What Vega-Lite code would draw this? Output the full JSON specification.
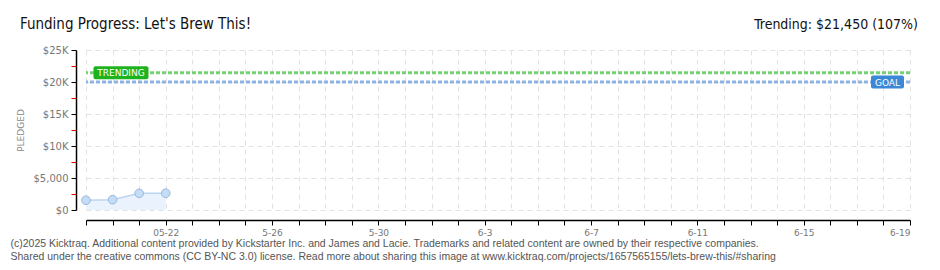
{
  "$schema": "https://vega.github.io/schema/vega-lite/v6.json",
  "width": 824,
  "height": 160,
  "autosize": "none",
  "padding": {"left": 86, "top": 50, "right": 30, "bottom": 60},
  "background": "white",
  "config": {"view": {"stroke": null}},
  "datasets": {
    "pledges": [
      {"date": "2025-05-19", "pledged": 1520},
      {"date": "2025-05-20", "pledged": 1610},
      {"date": "2025-05-21", "pledged": 2600},
      {"date": "2025-05-22", "pledged": 2620}
    ],
    "targets": [
      {"label": "TRENDING", "value": 21450},
      {"label": "GOAL", "value": 20000}
    ],
    "header": [{"text": "Funding Progress: Let's Brew This!"}],
    "header2": [{"text": "Trending:  $21,450 (107%)"}]
  },
  "resolve": {"scale": {"y": "independent"}, "axis": {"y": "independent"}},
  "layer": [
    {
      "data": {"name": "pledges"},
      "mark": {"type": "rule", "strokeOpacity": 0},
      "encoding": {
        "y": {
          "field": "pledged",
          "type": "quantitative",
          "scale": {"domain": [0, 25000], "nice": false},
          "axis": {
            "orient": "left",
            "title": "PLEDGED",
            "titleFont": "DejaVu Sans",
            "titleFontSize": 9,
            "titleFontWeight": "normal",
            "titleColor": "#888888",
            "titlePadding": 8,
            "offset": 10,
            "values": [0, 5000, 10000, 15000, 20000, 25000],
            "labelOverlap": false,
            "tickSize": 5,
            "tickColor": "#000000",
            "domainColor": "#000000",
            "domainWidth": 1.5,
            "labelFont": "DejaVu Sans",
            "labelFontSize": 10,
            "labelColor": "#777777",
            "labelPadding": 3,
            "labelExpr": "datum.value == 0 ? '$0' : datum.value == 5000 ? '$5,000' : '$' + datum.value/1000 + 'K'",
            "grid": true,
            "gridColor": "#e2e2e2",
            "gridDash": [5, 4]
          }
        }
      }
    },
    {
      "data": {"name": "pledges"},
      "mark": {"type": "rule", "strokeOpacity": 0},
      "encoding": {
        "y": {
          "field": "pledged",
          "type": "quantitative",
          "scale": {"domain": [0, 25000], "nice": false},
          "axis": {
            "orient": "left",
            "title": null,
            "offset": 10,
            "values": [2500, 7500, 12500, 17500, 22500],
            "labels": false,
            "domain": false,
            "grid": false,
            "ticks": true,
            "tickSize": 5,
            "tickColor": "#e00000"
          }
        }
      }
    },
    {
      "layer": [
        {
          "data": {"name": "pledges"},
          "mark": {"type": "area", "color": "#eaf3fd"},
          "encoding": {
            "x": {
              "field": "date",
              "type": "temporal",
              "scale": {
                "type": "utc",
                "domain": [
                  {"year": 2025, "month": 5, "date": 19, "utc": true},
                  {"year": 2025, "month": 6, "date": 19, "utc": true}
                ]
              },
              "axis": {
                "title": [
                  "(c)2025 Kicktraq. Additional content provided by Kickstarter Inc. and James and Lacie. Trademarks and related content are owned by their respective companies.",
                  "Shared under the creative commons (CC BY-NC 3.0) license. Read more about sharing this image at www.kicktraq.com/projects/1657565155/lets-brew-this/#sharing"
                ],
                "titleFont": "Liberation Sans",
                "titleFontSize": 10.5,
                "titleFontWeight": "normal",
                "titleColor": "#555555",
                "titleAnchor": "start",
                "titleAlign": "left",
                "titleBaseline": "alphabetic",
                "titleX": -76,
                "titleY": 26,
                "titleLineHeight": 13,
                "offset": 10,
                "tickCount": {"interval": "day", "step": 1},
                "tickSize": 5,
                "tickColor": "#000000",
                "domainColor": "#000000",
                "domainWidth": 1.5,
                "labelOverlap": false,
                "labelFont": "DejaVu Sans",
                "labelFontSize": 9,
                "labelColor": "#777777",
                "labelPadding": 3,
                "labelExpr": "time(datum.value) == utc(2025,4,22) ? '05-22' : ((time(datum.value) > utc(2025,4,22) && round((time(datum.value) - utc(2025,4,22))/86400000) % 4 == 0) ? (utcmonth(datum.value)+1) + '-' + utcdate(datum.value) : '')",
                "grid": true,
                "gridColor": "#e2e2e2",
                "gridDash": [5, 4]
              }
            },
            "y": {
              "field": "pledged",
              "type": "quantitative",
              "scale": {"domain": [0, 25000], "nice": false},
              "axis": null
            }
          }
        },
        {
          "data": {"name": "pledges"},
          "mark": {"type": "line", "color": "#bcd5f1", "strokeWidth": 1.5},
          "encoding": {
            "x": {"field": "date", "type": "temporal"},
            "y": {"field": "pledged", "type": "quantitative", "axis": null}
          }
        },
        {
          "data": {"name": "pledges"},
          "mark": {"type": "point", "filled": true, "fill": "#c4dcf6", "stroke": "#99b8de", "strokeWidth": 1, "size": 75, "opacity": 1},
          "encoding": {
            "x": {"field": "date", "type": "temporal"},
            "y": {"field": "pledged", "type": "quantitative", "axis": null}
          }
        },
        {
          "data": {"name": "targets"},
          "mark": {"type": "rule", "strokeWidth": 3, "strokeDash": [4, 2]},
          "encoding": {
            "y": {"field": "value", "type": "quantitative", "axis": null},
            "color": {
              "field": "label",
              "type": "nominal",
              "scale": {"domain": ["TRENDING", "GOAL"], "range": ["#74d274", "#8db3e2"]},
              "legend": null
            }
          }
        },
        {
          "data": {"name": "targets"},
          "transform": [{"filter": "datum.label == 'TRENDING'"}],
          "mark": {"type": "rect", "color": "#1eb31e", "width": 55, "height": 13, "xOffset": 35, "cornerRadius": 2},
          "encoding": {
            "x": {"datum": {"year": 2025, "month": 5, "date": 19, "utc": true}, "type": "temporal"},
            "y": {"field": "value", "type": "quantitative", "axis": null}
          }
        },
        {
          "data": {"name": "targets"},
          "transform": [{"filter": "datum.label == 'TRENDING'"}],
          "mark": {"type": "text", "color": "white", "font": "DejaVu Sans", "fontSize": 9, "align": "center", "baseline": "middle", "xOffset": 35, "dy": 0.5},
          "encoding": {
            "x": {"datum": {"year": 2025, "month": 5, "date": 19, "utc": true}, "type": "temporal"},
            "y": {"field": "value", "type": "quantitative", "axis": null},
            "text": {"field": "label"}
          }
        },
        {
          "data": {"name": "targets"},
          "transform": [{"filter": "datum.label == 'GOAL'"}],
          "mark": {"type": "rect", "color": "#3b88d7", "width": 33, "height": 13, "xOffset": -22.5, "cornerRadius": 2},
          "encoding": {
            "x": {"datum": {"year": 2025, "month": 6, "date": 19, "utc": true}, "type": "temporal"},
            "y": {"field": "value", "type": "quantitative", "axis": null}
          }
        },
        {
          "data": {"name": "targets"},
          "transform": [{"filter": "datum.label == 'GOAL'"}],
          "mark": {"type": "text", "color": "white", "font": "DejaVu Sans", "fontSize": 9, "align": "center", "baseline": "middle", "xOffset": -22.5, "dy": 0.5},
          "encoding": {
            "x": {"datum": {"year": 2025, "month": 6, "date": 19, "utc": true}, "type": "temporal"},
            "y": {"field": "value", "type": "quantitative", "axis": null},
            "text": {"field": "label"}
          }
        },
        {
          "data": {"name": "header"},
          "mark": {"type": "text", "font": "DejaVu Sans Condensed, Liberation Sans, sans-serif", "fontSize": 15, "color": "#111111", "align": "left", "baseline": "alphabetic", "dx": -66, "dy": -21},
          "encoding": {
            "x": {"datum": {"year": 2025, "month": 5, "date": 19, "utc": true}, "type": "temporal"},
            "y": {"datum": 25000, "type": "quantitative", "axis": null},
            "text": {"field": "text"}
          }
        },
        {
          "data": {"name": "header2"},
          "mark": {"type": "text", "font": "DejaVu Sans Condensed, Liberation Sans, sans-serif", "fontSize": 14, "color": "#111111", "align": "right", "baseline": "alphabetic", "dx": 8, "dy": -21},
          "encoding": {
            "x": {"datum": {"year": 2025, "month": 6, "date": 19, "utc": true}, "type": "temporal"},
            "y": {"datum": 25000, "type": "quantitative", "axis": null},
            "text": {"field": "text"}
          }
        }
      ]
    }
  ]
}
